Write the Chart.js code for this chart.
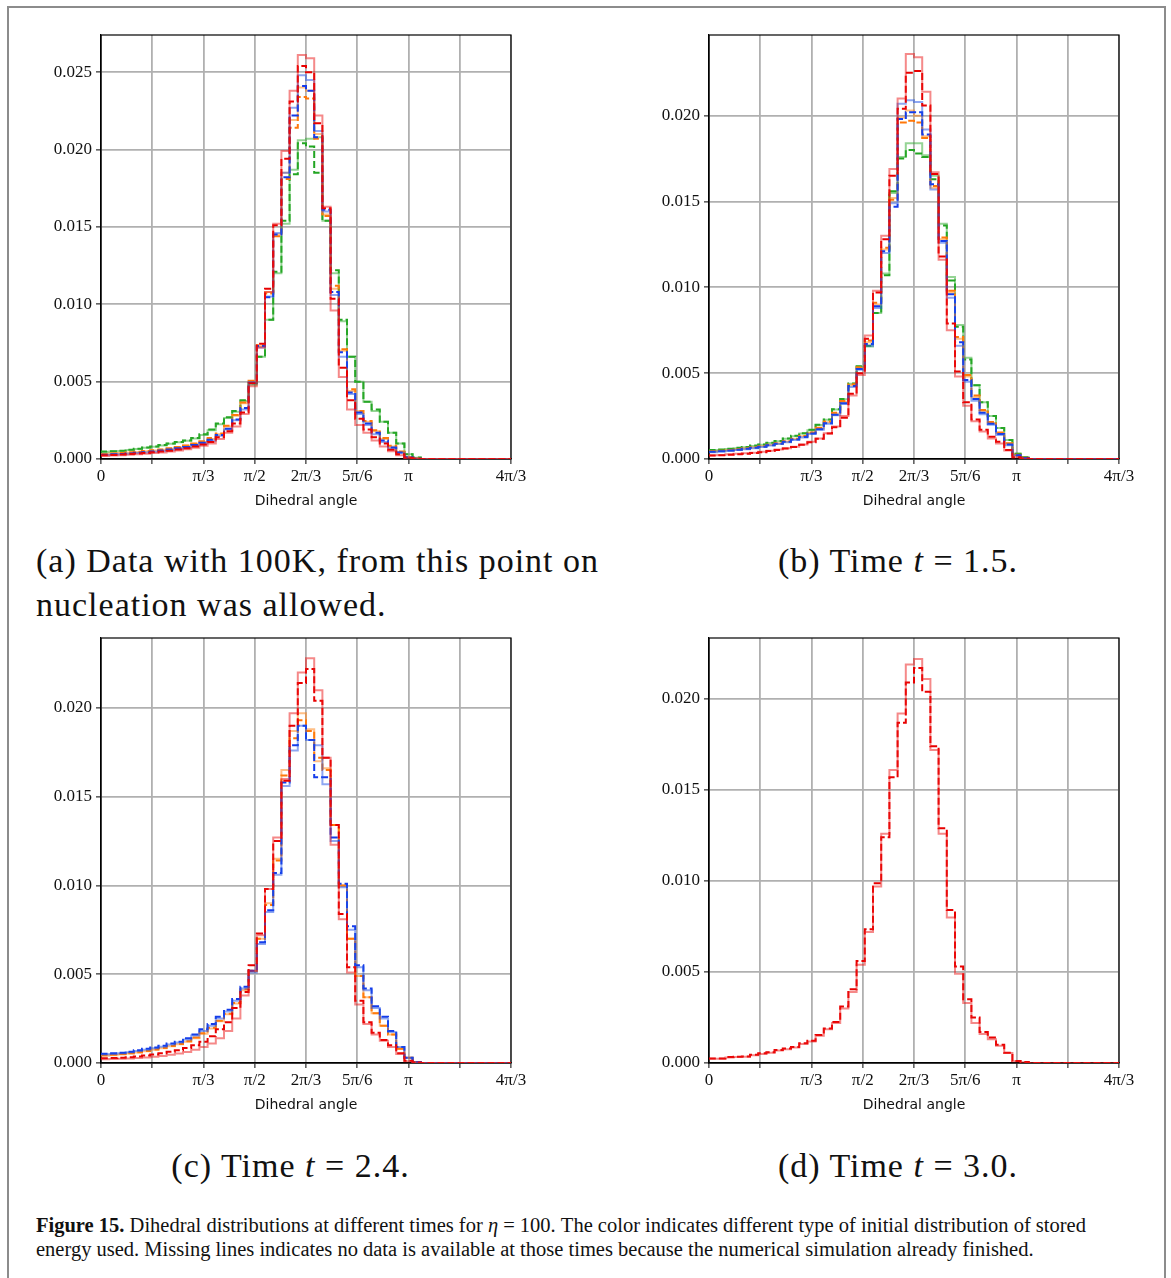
<!DOCTYPE html>
<html lang="en">
<head>
<meta charset="UTF-8">
<title>Dihedral distributions</title>
<script src="https://cdn.jsdelivr.net/npm/chart.js"></script>
<style>
  html, body { margin: 0; background: #fff; overflow: hidden; }
  body { width: 1171px; height: 1278px; position: relative; font-family: "Liberation Serif", serif; color: #111; }
  #frame { position: absolute; left: 7px; top: 6px; width: 1159px; height: 1400px; box-sizing: border-box; border: 2px solid #8c8c8c; }
  canvas { position: absolute; }
  .cap { position: absolute; font-size: 34px; line-height: 44px; letter-spacing: 1px; white-space: nowrap; }
  .mid { text-align: center; }
  #figcap { position: absolute; left: 36px; top: 1213px; font-size: 20.5px; line-height: 24px; white-space: nowrap; }
</style>
</head>
<body>
<div id="frame"></div>

<canvas id="chartA" width="505" height="489" style="left:31px; top:25px;"></canvas>
<canvas id="chartB" width="505" height="489" style="left:639px; top:25px;"></canvas>
<canvas id="chartC" width="505" height="490" style="left:31px; top:628px;"></canvas>
<canvas id="chartD" width="505" height="490" style="left:639px; top:628px;"></canvas>

<div class="cap" style="left:36px; top:539px;">(a) Data with 100K, from this point on<br>nucleation was allowed.</div>
<div class="cap mid" style="left:632px; width:532px; top:539px;">(b) Time <i>t</i> = 1.5.</div>
<div class="cap mid" style="left:36px; width:509px; top:1144px;">(c) Time <i>t</i> = 2.4.</div>
<div class="cap mid" style="left:632px; width:532px; top:1144px;">(d) Time <i>t</i> = 3.0.</div>

<div id="figcap"><b>Figure 15.</b> Dihedral distributions at different times for <i>η</i> = 100. The color indicates different type of initial distribution of stored<br>energy used. Missing lines indicates no data is available at those times because the numerical simulation already finished.</div>

<script>
  // histogram bins: 50 bins of 4.8 degrees over [0, 4pi/3]
  const binWidth = 4.8;
  const xTickValues = [0, 30, 60, 90, 120, 150, 180, 210, 240];
  const xTickLabels = ['0', '', 'π/3', 'π/2', '2π/3', '5π/6', 'π', '', '4π/3'];
  const yTickValues = [0, 0.005, 0.010, 0.015, 0.020, 0.025];

  // (a) 100K
  const aRedSolid = [0.00018,0.00020,0.00022,0.00025,0.00028,0.00030,0.00034,0.00038,0.00042,0.00048,
    0.00055,0.00063,0.00072,0.00085,0.00100,0.00130,0.00170,0.00210,0.00290,0.00470,
    0.00720,0.01080,0.01520,0.01990,0.02380,0.02610,0.02590,0.02220,0.01630,0.00960,
    0.00530,0.00320,0.00220,0.00170,0.00120,0.00080,0.00050,0.00025,0.00006,0.00001,
    0,0,0,0,0,0,0,0,0,0];
  const aRedDashed = [0.00022,0.00024,0.00026,0.00029,0.00032,0.00035,0.00039,0.00043,0.00048,0.00054,
    0.00061,0.00070,0.00080,0.00094,0.00110,0.00140,0.00180,0.00230,0.00300,0.00490,
    0.00745,0.01100,0.01510,0.01940,0.02310,0.02540,0.02500,0.02170,0.01620,0.01035,
    0.00590,0.00380,0.00260,0.00190,0.00140,0.00100,0.00060,0.00030,0.00008,0.00002,
    0,0,0,0,0,0,0,0,0,0];
  const aBlueSolid = [0.00024,0.00026,0.00028,0.00031,0.00034,0.00038,0.00042,0.00047,0.00052,0.00058,
    0.00066,0.00075,0.00086,0.00100,0.00118,0.00150,0.00190,0.00250,0.00320,0.00490,
    0.00720,0.01050,0.01460,0.01850,0.02270,0.02480,0.02450,0.02120,0.01600,0.01060,
    0.00660,0.00420,0.00290,0.00220,0.00160,0.00110,0.00070,0.00040,0.00010,0.00002,
    0,0,0,0,0,0,0,0,0,0];
  const aBlueDashed = [0.00026,0.00028,0.00030,0.00033,0.00036,0.00040,0.00044,0.00049,0.00055,0.00061,
    0.00069,0.00078,0.00090,0.00105,0.00124,0.00155,0.00195,0.00255,0.00330,0.00495,
    0.00730,0.01045,0.01450,0.01820,0.02220,0.02410,0.02380,0.02080,0.01610,0.01080,
    0.00690,0.00430,0.00300,0.00230,0.00170,0.00120,0.00075,0.00042,0.00011,0.00002,
    0,0,0,0,0,0,0,0,0,0];
  const aOrangeSolid = [0.00030,0.00032,0.00035,0.00038,0.00042,0.00046,0.00050,0.00055,0.00060,0.00067,
    0.00075,0.00085,0.00097,0.00110,0.00130,0.00160,0.00210,0.00280,0.00360,0.00500,
    0.00730,0.01080,0.01450,0.01850,0.02190,0.02400,0.02380,0.02100,0.01580,0.01100,
    0.00700,0.00440,0.00310,0.00240,0.00180,0.00130,0.00080,0.00045,0.00012,0.00002,
    0,0,0,0,0,0,0,0,0,0];
  const aOrangeDashed = [0.00031,0.00033,0.00036,0.00039,0.00043,0.00047,0.00052,0.00057,0.00062,0.00069,
    0.00078,0.00088,0.00100,0.00115,0.00135,0.00165,0.00215,0.00285,0.00365,0.00505,
    0.00735,0.01070,0.01440,0.01810,0.02140,0.02340,0.02330,0.02070,0.01570,0.01120,
    0.00710,0.00450,0.00310,0.00245,0.00185,0.00135,0.00085,0.00048,0.00013,0.00003,
    0,0,0,0,0,0,0,0,0,0];
  const aGreenSolid = [0.00040,0.00045,0.00048,0.00052,0.00058,0.00064,0.00072,0.00079,0.00088,0.00098,
    0.00108,0.00118,0.00132,0.00155,0.00185,0.00225,0.00265,0.00305,0.00375,0.00480,
    0.00660,0.00900,0.01200,0.01520,0.01870,0.02060,0.02070,0.02080,0.01540,0.01200,
    0.00890,0.00660,0.00500,0.00370,0.00310,0.00240,0.00170,0.00100,0.00030,0.00008,
    0,0,0,0,0,0,0,0,0,0];
  const aGreenDashed = [0.00043,0.00048,0.00050,0.00053,0.00060,0.00066,0.00074,0.00080,0.00090,0.00100,
    0.00110,0.00120,0.00135,0.00160,0.00190,0.00230,0.00270,0.00310,0.00380,0.00490,
    0.00660,0.00900,0.01210,0.01540,0.01840,0.02040,0.02020,0.01850,0.01540,0.01220,
    0.00900,0.00660,0.00500,0.00370,0.00320,0.00240,0.00170,0.00100,0.00030,0.00010,
    0,0,0,0,0,0,0,0,0,0];

  // (b) t = 1.5
  const bRedSolid = [0.00020,0.00022,0.00024,0.00027,0.00030,0.00033,0.00037,0.00042,0.00048,0.00055,
    0.00063,0.00072,0.00085,0.00100,0.00120,0.00150,0.00190,0.00250,0.00370,0.00490,
    0.00720,0.00980,0.01300,0.01690,0.02100,0.02360,0.02340,0.02140,0.01670,0.01160,
    0.00750,0.00480,0.00310,0.00220,0.00160,0.00120,0.00090,0.00050,0.00010,0.00002,
    0,0,0,0,0,0,0,0,0,0];
  const bRedDashed = [0.00018,0.00020,0.00022,0.00025,0.00028,0.00031,0.00035,0.00040,0.00046,0.00053,
    0.00061,0.00070,0.00083,0.00098,0.00118,0.00148,0.00185,0.00240,0.00380,0.00500,
    0.00700,0.00970,0.01280,0.01650,0.02040,0.02250,0.02260,0.02060,0.01660,0.01180,
    0.00790,0.00510,0.00330,0.00230,0.00170,0.00130,0.00100,0.00052,0.00010,0.00003,
    0,0,0,0,0,0,0,0,0,0];
  const bBlueSolid = [0.00038,0.00040,0.00043,0.00047,0.00052,0.00057,0.00063,0.00070,0.00078,0.00087,
    0.00097,0.00110,0.00125,0.00145,0.00170,0.00205,0.00255,0.00320,0.00420,0.00520,
    0.00660,0.00880,0.01200,0.01490,0.02070,0.02090,0.02080,0.01920,0.01570,0.01260,
    0.00940,0.00660,0.00450,0.00340,0.00260,0.00200,0.00140,0.00080,0.00020,0.00005,
    0,0,0,0,0,0,0,0,0,0];
  const bBlueDashed = [0.00040,0.00042,0.00045,0.00049,0.00054,0.00059,0.00065,0.00072,0.00080,0.00089,
    0.00100,0.00113,0.00128,0.00148,0.00173,0.00208,0.00258,0.00325,0.00425,0.00525,
    0.00670,0.00890,0.01210,0.01470,0.01980,0.02020,0.02020,0.01890,0.01600,0.01270,
    0.00960,0.00680,0.00460,0.00350,0.00270,0.00205,0.00145,0.00085,0.00022,0.00006,
    0,0,0,0,0,0,0,0,0,0];
  const bOrangeSolid = [0.00042,0.00044,0.00047,0.00051,0.00056,0.00061,0.00067,0.00074,0.00082,0.00091,
    0.00102,0.00116,0.00132,0.00152,0.00178,0.00214,0.00265,0.00332,0.00430,0.00530,
    0.00680,0.00900,0.01220,0.01520,0.01990,0.02030,0.02000,0.01880,0.01580,0.01280,
    0.00970,0.00700,0.00480,0.00360,0.00280,0.00210,0.00150,0.00090,0.00024,0.00006,
    0,0,0,0,0,0,0,0,0,0];
  const bOrangeDashed = [0.00043,0.00045,0.00048,0.00052,0.00057,0.00062,0.00068,0.00075,0.00083,0.00092,
    0.00104,0.00118,0.00134,0.00155,0.00182,0.00218,0.00270,0.00338,0.00435,0.00535,
    0.00690,0.00910,0.01230,0.01510,0.01960,0.01970,0.01960,0.01870,0.01590,0.01290,
    0.00980,0.00710,0.00490,0.00370,0.00285,0.00215,0.00155,0.00092,0.00025,0.00007,
    0,0,0,0,0,0,0,0,0,0];
  const bGreenSolid = [0.00048,0.00050,0.00053,0.00058,0.00063,0.00068,0.00076,0.00083,0.00093,0.00103,
    0.00118,0.00133,0.00148,0.00168,0.00198,0.00228,0.00288,0.00348,0.00438,0.00538,
    0.00655,0.00850,0.01080,0.01550,0.01760,0.01840,0.01840,0.01770,0.01650,0.01370,
    0.01060,0.00780,0.00590,0.00430,0.00330,0.00250,0.00180,0.00110,0.00030,0.00010,
    0,0,0,0,0,0,0,0,0,0];
  const bGreenDashed = [0.00050,0.00052,0.00055,0.00060,0.00065,0.00070,0.00078,0.00085,0.00095,0.00105,
    0.00120,0.00135,0.00150,0.00170,0.00200,0.00230,0.00290,0.00350,0.00440,0.00540,
    0.00660,0.00850,0.01070,0.01560,0.01750,0.01800,0.01780,0.01760,0.01630,0.01360,
    0.01040,0.00770,0.00580,0.00430,0.00330,0.00250,0.00180,0.00110,0.00030,0.00010,
    0,0,0,0,0,0,0,0,0,0];

  // (c) t = 2.4
  const cRedSolid = [0.00020,0.00021,0.00022,0.00024,0.00026,0.00028,0.00031,0.00035,0.00040,0.00046,
    0.00053,0.00062,0.00075,0.00090,0.00110,0.00140,0.00180,0.00250,0.00380,0.00520,
    0.00720,0.00980,0.01270,0.01600,0.01970,0.02200,0.02280,0.02100,0.01720,0.01230,
    0.00810,0.00510,0.00330,0.00220,0.00160,0.00125,0.00090,0.00050,0.00010,0.00003,
    0,0,0,0,0,0,0,0,0,0];
  const cRedDashed = [0.00026,0.00027,0.00028,0.00030,0.00033,0.00037,0.00042,0.00048,0.00055,0.00063,
    0.00072,0.00085,0.00100,0.00120,0.00150,0.00190,0.00230,0.00310,0.00400,0.00550,
    0.00730,0.00980,0.01250,0.01590,0.01900,0.02140,0.02220,0.02040,0.01720,0.01340,
    0.00840,0.00540,0.00350,0.00230,0.00170,0.00130,0.00100,0.00055,0.00012,0.00003,
    0,0,0,0,0,0,0,0,0,0];
  const cBlueSolid = [0.00045,0.00048,0.00051,0.00055,0.00060,0.00067,0.00075,0.00083,0.00092,0.00104,
    0.00115,0.00132,0.00155,0.00180,0.00210,0.00250,0.00290,0.00350,0.00420,0.00510,
    0.00670,0.00850,0.01060,0.01560,0.01760,0.01900,0.01820,0.01790,0.01570,0.01250,
    0.00990,0.00750,0.00540,0.00410,0.00310,0.00250,0.00175,0.00090,0.00030,0.00005,
    0,0,0,0,0,0,0,0,0,0];
  const cBlueDashed = [0.00050,0.00052,0.00055,0.00058,0.00064,0.00072,0.00080,0.00088,0.00097,0.00110,
    0.00120,0.00140,0.00160,0.00190,0.00220,0.00260,0.00300,0.00360,0.00430,0.00520,
    0.00680,0.00860,0.01070,0.01580,0.01790,0.01900,0.01820,0.01610,0.01610,0.01270,
    0.01010,0.00770,0.00550,0.00420,0.00320,0.00260,0.00180,0.00090,0.00030,0.00005,
    0,0,0,0,0,0,0,0,0,0];
  const cOrangeSolid = [0.00038,0.00041,0.00044,0.00048,0.00053,0.00059,0.00066,0.00074,0.00083,0.00094,
    0.00105,0.00120,0.00140,0.00165,0.00195,0.00235,0.00275,0.00335,0.00410,0.00515,
    0.00700,0.00900,0.01150,0.01650,0.01870,0.01970,0.01880,0.01700,0.01660,0.01340,
    0.01000,0.00700,0.00490,0.00370,0.00280,0.00210,0.00160,0.00080,0.00030,0.00005,
    0,0,0,0,0,0,0,0,0,0];
  const cOrangeDashed = [0.00040,0.00043,0.00046,0.00050,0.00055,0.00061,0.00068,0.00076,0.00085,0.00096,
    0.00107,0.00122,0.00143,0.00168,0.00198,0.00238,0.00278,0.00338,0.00415,0.00520,
    0.00700,0.00890,0.01140,0.01620,0.01830,0.01930,0.01870,0.01720,0.01650,0.01340,
    0.01000,0.00700,0.00490,0.00370,0.00280,0.00210,0.00160,0.00080,0.00030,0.00005,
    0,0,0,0,0,0,0,0,0,0];

  // (d) t = 3.0
  const dRedSolid = [0.00022,0.00023,0.00024,0.00030,0.00033,0.00035,0.00043,0.00050,0.00056,0.00068,
    0.00076,0.00085,0.00104,0.00118,0.00150,0.00185,0.00220,0.00300,0.00390,0.00540,
    0.00720,0.00970,0.01260,0.01610,0.01920,0.02190,0.02220,0.02110,0.01720,0.01260,
    0.00800,0.00490,0.00330,0.00220,0.00160,0.00130,0.00095,0.00055,0.00010,0.00004,
    0,0,0,0,0,0,0,0,0,0];
  const dRedDashed = [0.00024,0.00025,0.00025,0.00033,0.00035,0.00036,0.00046,0.00053,0.00059,0.00071,
    0.00079,0.00088,0.00108,0.00122,0.00154,0.00190,0.00225,0.00310,0.00405,0.00560,
    0.00735,0.00987,0.01240,0.01570,0.01870,0.02090,0.02170,0.02040,0.01740,0.01290,
    0.00840,0.00530,0.00350,0.00250,0.00170,0.00140,0.00100,0.00057,0.00011,0.00005,
    0,0,0,0,0,0,0,0,0,0];

  const colors = {
    red:    { solid: 'rgba(235, 20, 20, 0.5)',  dashed: 'rgb(232, 0, 0)' },
    blue:   { solid: 'rgba(30, 80, 230, 0.5)',  dashed: 'rgb(20, 60, 235)' },
    orange: { solid: 'rgba(255, 127, 14, 0.5)', dashed: 'rgb(255, 120, 10)' },
    green:  { solid: 'rgba(44, 170, 44, 0.5)',  dashed: 'rgb(34, 165, 34)' }
  };

  const panels = [
    { id: 'chartA', yMax: 0.0274, series: [
      ['red', aRedSolid, aRedDashed], ['blue', aBlueSolid, aBlueDashed],
      ['orange', aOrangeSolid, aOrangeDashed], ['green', aGreenSolid, aGreenDashed] ] },
    { id: 'chartB', yMax: 0.0247, series: [
      ['red', bRedSolid, bRedDashed], ['blue', bBlueSolid, bBlueDashed],
      ['orange', bOrangeSolid, bOrangeDashed], ['green', bGreenSolid, bGreenDashed] ] },
    { id: 'chartC', yMax: 0.02394, series: [
      ['red', cRedSolid, cRedDashed], ['blue', cBlueSolid, cBlueDashed],
      ['orange', cOrangeSolid, cOrangeDashed] ] },
    { id: 'chartD', yMax: 0.02335, series: [
      ['red', dRedSolid, dRedDashed] ] }
  ];

  // bin heights -> points at the left bin edges, closed at the last edge
  function steps(values) {
    const pts = values.map((v, i) => ({ x: i * binWidth, y: v }));
    pts.push({ x: values.length * binWidth, y: values[values.length - 1] });
    return pts;
  }

  // matplotlib-like box around the axes
  const frame = {
    id: 'frame',
    beforeDatasetsDraw(chart) {
      const { ctx, chartArea: a } = chart;
      ctx.save();
      ctx.strokeStyle = '#000';
      ctx.lineWidth = 1.2;
      ctx.strokeRect(a.left, a.top, a.right - a.left, a.bottom - a.top);
      ctx.restore();
    }
  };

  const tickFont = { family: 'Liberation Serif', size: 17 };
  const grid = { color: '#b0b0b0', lineWidth: 1.8, tickColor: '#000', tickLength: 5, tickWidth: 1 };

  panels.forEach(p => {
    const datasets = [];
    p.series.forEach(([c, solid, dashed]) => {
      datasets.push({ data: steps(solid), borderColor: colors[c].solid, borderWidth: 2 });
      datasets.push({ data: steps(dashed), borderColor: colors[c].dashed, borderWidth: 2, borderDash: [7, 3] });
    });

    new Chart(document.getElementById(p.id), {
      type: 'line',
      data: { datasets },
      options: {
        responsive: false,
        animation: false,
        events: [],
        datasets: { line: { stepped: 'after', pointRadius: 0, tension: 0, fill: false } },
        layout: { padding: { top: 10, right: 25, left: 0, bottom: 0 } },
        plugins: { legend: { display: false }, tooltip: { enabled: false } },
        scales: {
          x: {
            type: 'linear', min: 0, max: 240,
            afterBuildTicks: s => { s.ticks = xTickValues.map(v => ({ value: v })); },
            afterFit: s => { s.height = 55; s.paddingLeft = 0; s.paddingRight = 0; },
            grid, border: { color: '#000', width: 1.2 },
            ticks: {
              font: tickFont, color: '#111', padding: 2, maxRotation: 0, autoSkip: false,
              callback: v => xTickLabels[xTickValues.indexOf(v)]
            },
            title: { display: true, text: 'Dihedral angle', color: '#111',
              font: { family: 'DejaVu Sans', size: 14 }, padding: { top: 2, bottom: 4 } }
          },
          y: {
            min: 0, max: p.yMax,
            afterBuildTicks: s => { s.ticks = yTickValues.filter(v => v <= s.max).map(v => ({ value: v })); },
            afterFit: s => { s.width = 70; s.paddingTop = 0; s.paddingBottom = 0; },
            grid, border: { color: '#000', width: 1.2 },
            ticks: { font: tickFont, color: '#111', padding: 4, callback: v => v.toFixed(3) }
          }
        }
      },
      plugins: [frame]
    });
  });
</script>
</body>
</html>
